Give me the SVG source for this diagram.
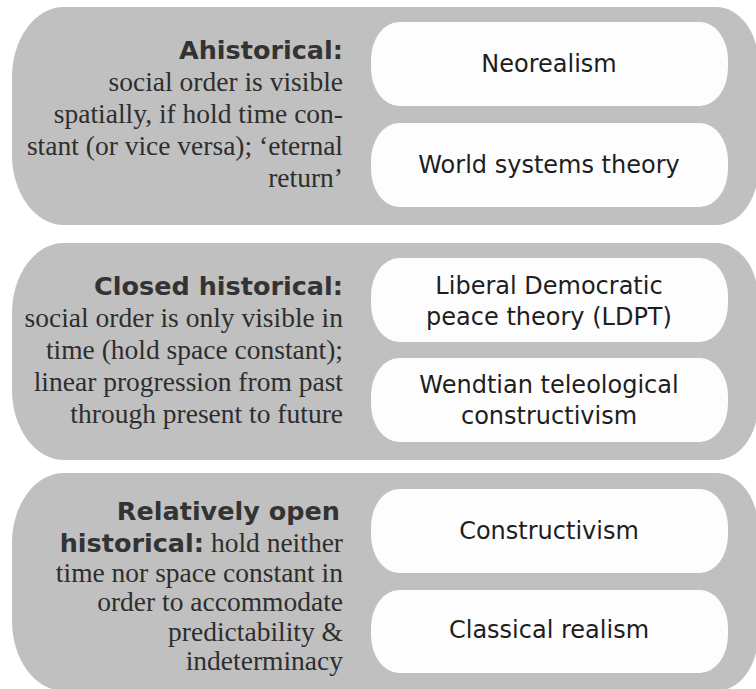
<svg xmlns="http://www.w3.org/2000/svg" width="756" height="689" viewBox="0 0 756 689">
<defs>
<style>
.panel{fill:#c0c0c0}
.box{fill:#fdfdfd}
.title{font-family:"DejaVu Sans","Liberation Sans",sans-serif;font-weight:bold;font-size:25.5px;fill:#333333}
.body{font-family:"Liberation Serif","Times New Roman",serif;font-size:27.5px;fill:#2e2e2e}
.lbl{font-family:"DejaVu Sans","Liberation Sans",sans-serif;font-size:24px;fill:#1e1e1e;text-anchor:middle}
</style>
</defs>
<rect width="756" height="689" fill="#ffffff"/>
<g id="panel-ahistorical">
<path class="panel" d="M64,7 H716 A42,55 0 0 1 758,62 V170 A42,55 0 0 1 716,225 H64 A52,70 0 0 1 12,155 V77 A52,70 0 0 1 64,7 Z"/>
<text class="title" x="343" y="59" text-anchor="end">Ahistorical:</text>
<text class="body" text-anchor="end"><tspan x="343" y="91">social order is visible</tspan><tspan x="343" y="123">spatially, if hold time con-</tspan><tspan x="343" y="155">stant (or vice versa); ‘eternal</tspan><tspan x="343" y="187">return’</tspan></text>
</g>
<g id="node-neorealism"><rect class="box" x="371" y="22" width="357" height="84" rx="28" ry="38"/><text class="lbl" x="549" y="72">Neorealism</text></g>
<g id="node-world-systems"><rect class="box" x="371" y="123" width="357" height="84" rx="28" ry="38"/><text class="lbl" x="549" y="173">World systems theory</text></g>
<g id="panel-closed">
<path class="panel" d="M64,243 H716 A42,55 0 0 1 758,298 V405 A42,55 0 0 1 716,460 H64 A52,70 0 0 1 12,390 V313 A52,70 0 0 1 64,243 Z"/>
<text class="title" x="343" y="295" text-anchor="end">Closed historical:</text>
<text class="body" text-anchor="end"><tspan x="343" y="327">social order is only visible in</tspan><tspan x="343" y="359">time (hold space constant);</tspan><tspan x="343" y="391">linear progression from past</tspan><tspan x="343" y="423">through present to future</tspan></text>
</g>
<g id="node-ldpt"><rect class="box" x="371" y="258" width="357" height="84" rx="28" ry="38"/><text class="lbl"><tspan x="549" y="294">Liberal Democratic</tspan><tspan x="549" y="325">peace theory (LDPT)</tspan></text></g>
<g id="node-wendtian"><rect class="box" x="371" y="358" width="357" height="84" rx="28" ry="38"/><text class="lbl"><tspan x="549" y="393">Wendtian teleological</tspan><tspan x="549" y="424">constructivism</tspan></text></g>
<g id="panel-open">
<path class="panel" d="M64,473 H716 A42,55 0 0 1 758,528 V636 A42,55 0 0 1 716,691 H64 A52,70 0 0 1 12,621 V543 A52,70 0 0 1 64,473 Z"/>
<text class="title" x="340" y="520" text-anchor="end">Relatively open</text>
<text text-anchor="end" x="343" y="552"><tspan class="title">historical:</tspan><tspan class="body"> hold neither</tspan></text>
<text class="body" text-anchor="end"><tspan x="343" y="582">time nor space constant in</tspan><tspan x="343" y="611">order to accommodate</tspan><tspan x="343" y="641">predictability &amp;</tspan><tspan x="343" y="670">indeterminacy</tspan></text>
</g>
<g id="node-constructivism"><rect class="box" x="371" y="489" width="357" height="84" rx="28" ry="38"/><text class="lbl" x="549" y="539">Constructivism</text></g>
<g id="node-classical-realism"><rect class="box" x="371" y="590" width="357" height="83" rx="28" ry="38"/><text class="lbl" x="549" y="638">Classical realism</text></g>
<g id="connectors"/>
</svg>
